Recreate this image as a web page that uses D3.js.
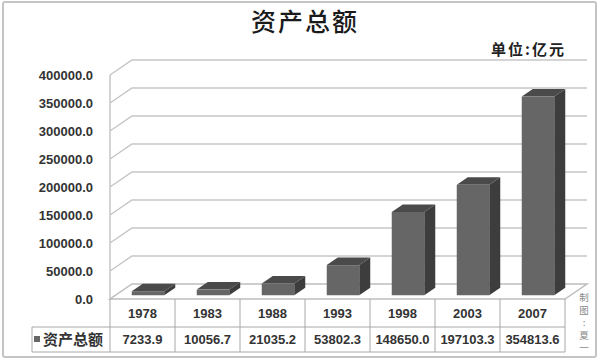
<!DOCTYPE html>
<html>
<head>
<meta charset="utf-8">
<script src="https://cdn.jsdelivr.net/npm/d3@7"></script>
<style>
  body { margin: 0; background: #fff; }
  text { font-family: "Liberation Sans", Arial, sans-serif; }
  .cjk { font-family: "Noto Sans CJK SC", sans-serif; }
</style>
</head>
<body>
<div></div>
<script>
// data
var years = ["1978", "1983", "1988", "1993", "1998", "2003", "2007"];
var values = [7233.9, 10056.7, 21035.2, 53802.3, 148650.0, 197103.3, 354813.6];
var valueLabels = ["7233.9", "10056.7", "21035.2", "53802.3", "148650.0", "197103.3", "354813.6"];
var yTicks = [0, 50000, 100000, 150000, 200000, 250000, 300000, 350000, 400000];
var seriesName = "资产总额";
var credit = ["制", "图", ":", "夏", "一"];

var width = 600, height = 361;
// 3d depth offset
var dx = 22, dy = -15;

var svg = d3.select("body").select("div").append("svg")
    .attr("width", width)
    .attr("height", height);

// outer frame
svg.append("rect")
    .attr("x", 3).attr("y", 2)
    .attr("width", 593).attr("height", 355)
    .attr("rx", 2)
    .attr("fill", "#fff")
    .attr("stroke", "#c4c4c4")
    .attr("stroke-width", 2);

// scales
var x = d3.scaleBand().domain(years).range([110, 565]).paddingInner(0).paddingOuter(0);
var y = d3.scaleLinear().domain([0, 400000]).range([299, 75]);

// title
svg.append("text")
    .attr("class", "cjk")
    .attr("x", 305).attr("y", 31)
    .attr("text-anchor", "middle")
    .attr("font-size", 25)
    .attr("font-weight", 500)
    .attr("letter-spacing", 2)
    .attr("fill", "#1a1a1a")
    .text(seriesName);

svg.append("text")
    .attr("class", "cjk")
    .attr("x", 566).attr("y", 55)
    .attr("text-anchor", "end")
    .attr("font-size", 15)
    .attr("font-weight", "bold")
    .attr("letter-spacing", 2)
    .attr("fill", "#222")
    .text("单位:亿元");

// gridlines: side diagonal + back wall line
var grid = svg.append("g");
yTicks.forEach(function(t) {
  if (t === 0) return;
  var yy = y(t);
  grid.append("path")
      .attr("d", "M" + x.range()[0] + "," + yy + "L" + (x.range()[0] + dx) + "," + (yy + dy) +
                 "L" + (x.range()[1] + dx) + "," + (yy + dy))
      .attr("fill", "none")
      .attr("stroke", "#c6c6c6")
      .attr("stroke-width", 1.5);
});

// left wall front edge
grid.append("line")
    .attr("x1", 110).attr("x2", 110)
    .attr("y1", y(400000)).attr("y2", y(0))
    .attr("stroke", "#c6c6c6").attr("stroke-width", 1.5);

// floor
var x0 = x.range()[0], x1 = x.range()[1], y0 = y(0);
svg.append("path")
    .attr("d", "M" + x0 + "," + y0 + "L" + x1 + "," + y0 + "L" + (x1 + dx) + "," + (y0 + dy) +
               "L" + (x0 + dx) + "," + (y0 + dy) + "Z")
    .attr("fill", "#fff")
    .attr("stroke", "#bdbdbd")
    .attr("stroke-width", 1.5);

// y axis labels
svg.append("g").selectAll("text")
    .data(yTicks)
    .enter().append("text")
    .attr("x", 93)
    .attr("y", function(d) { return y(d) + 5; })
    .attr("text-anchor", "end")
    .attr("font-size", 13)
    .attr("font-weight", "bold")
    .attr("fill", "#333")
    .text(function(d) { return d3.format(".1f")(d); });

// bars
var bw = x.bandwidth() * 0.5;
var bars = svg.append("g").selectAll("g")
    .data(values)
    .enter().append("g");

function barGeom(d, i) {
  var bx0 = x(years[i]) + (x.bandwidth() - bw) / 2 + dx * 0.25;
  var bx1 = bx0 + bw;
  var top = y(d) + dy * 0.25;
  var bot = y(0) + dy * 0.25;
  return {x0: bx0, x1: bx1, top: top, bot: bot};
}

bars.append("path")  // side
    .attr("d", function(d, i) {
      var g = barGeom(d, i);
      return "M" + g.x1 + "," + g.top + "L" + (g.x1 + dx / 2) + "," + (g.top + dy / 2) +
             "L" + (g.x1 + dx / 2) + "," + (g.bot + dy / 2) + "L" + g.x1 + "," + g.bot + "Z";
    })
    .attr("fill", "#3d3d3d");

bars.append("path")  // top
    .attr("d", function(d, i) {
      var g = barGeom(d, i);
      return "M" + g.x0 + "," + g.top + "L" + g.x1 + "," + g.top +
             "L" + (g.x1 + dx / 2) + "," + (g.top + dy / 2) + "L" + (g.x0 + dx / 2) + "," + (g.top + dy / 2) + "Z";
    })
    .attr("fill", "#4a4a4a");

bars.append("rect")  // front
    .attr("x", function(d, i) { return barGeom(d, i).x0; })
    .attr("y", function(d, i) { return barGeom(d, i).top; })
    .attr("width", bw)
    .attr("height", function(d, i) { var g = barGeom(d, i); return g.bot - g.top; })
    .attr("fill", "#666");

// data table
var table = svg.append("g");
var rowTop = 299, rowMid = 327, rowBot = 352, legendLeft = 32;
var lineColor = "#a8a8a8";

table.append("line").attr("x1", legendLeft).attr("x2", x1).attr("y1", rowMid).attr("y2", rowMid)
    .attr("stroke", lineColor);
table.append("line").attr("x1", legendLeft).attr("x2", x1).attr("y1", rowBot).attr("y2", rowBot)
    .attr("stroke", lineColor);
table.append("line").attr("x1", legendLeft).attr("x2", legendLeft).attr("y1", rowMid).attr("y2", rowBot)
    .attr("stroke", lineColor);

table.selectAll(".vline")
    .data(years.concat(["end"]))
    .enter().append("line")
    .attr("class", "vline")
    .attr("x1", function(d, i) { return x0 + i * x.bandwidth(); })
    .attr("x2", function(d, i) { return x0 + i * x.bandwidth(); })
    .attr("y1", rowTop).attr("y2", rowBot)
    .attr("stroke", lineColor);

table.selectAll(".year")
    .data(years)
    .enter().append("text")
    .attr("x", function(d) { return x(d) + x.bandwidth() / 2; })
    .attr("y", 318)
    .attr("text-anchor", "middle")
    .attr("font-size", 13)
    .attr("font-weight", "bold")
    .attr("fill", "#333")
    .text(function(d) { return d; });

table.selectAll(".val")
    .data(valueLabels)
    .enter().append("text")
    .attr("x", function(d, i) { return x(years[i]) + x.bandwidth() / 2; })
    .attr("y", 344)
    .attr("text-anchor", "middle")
    .attr("font-size", 13)
    .attr("font-weight", "bold")
    .attr("fill", "#333")
    .text(function(d) { return d; });

// legend key inside table
table.append("rect")
    .attr("x", 34).attr("y", 336).attr("width", 6).attr("height", 6)
    .attr("fill", "#666");
table.append("text")
    .attr("class", "cjk")
    .attr("x", 43).attr("y", 345)
    .attr("font-size", 15)
    .attr("font-weight", "bold")
    .attr("fill", "#333")
    .text(seriesName);

// vertical credit text
svg.append("g").selectAll("text")
    .data(credit)
    .enter().append("text")
    .attr("class", "cjk")
    .attr("x", 584)
    .attr("y", function(d, i) { return 301 + i * 12.5; })
    .attr("text-anchor", "middle")
    .attr("font-size", 9.5)
    .attr("fill", "#888")
    .text(function(d) { return d; });
</script>
</body>
</html>
